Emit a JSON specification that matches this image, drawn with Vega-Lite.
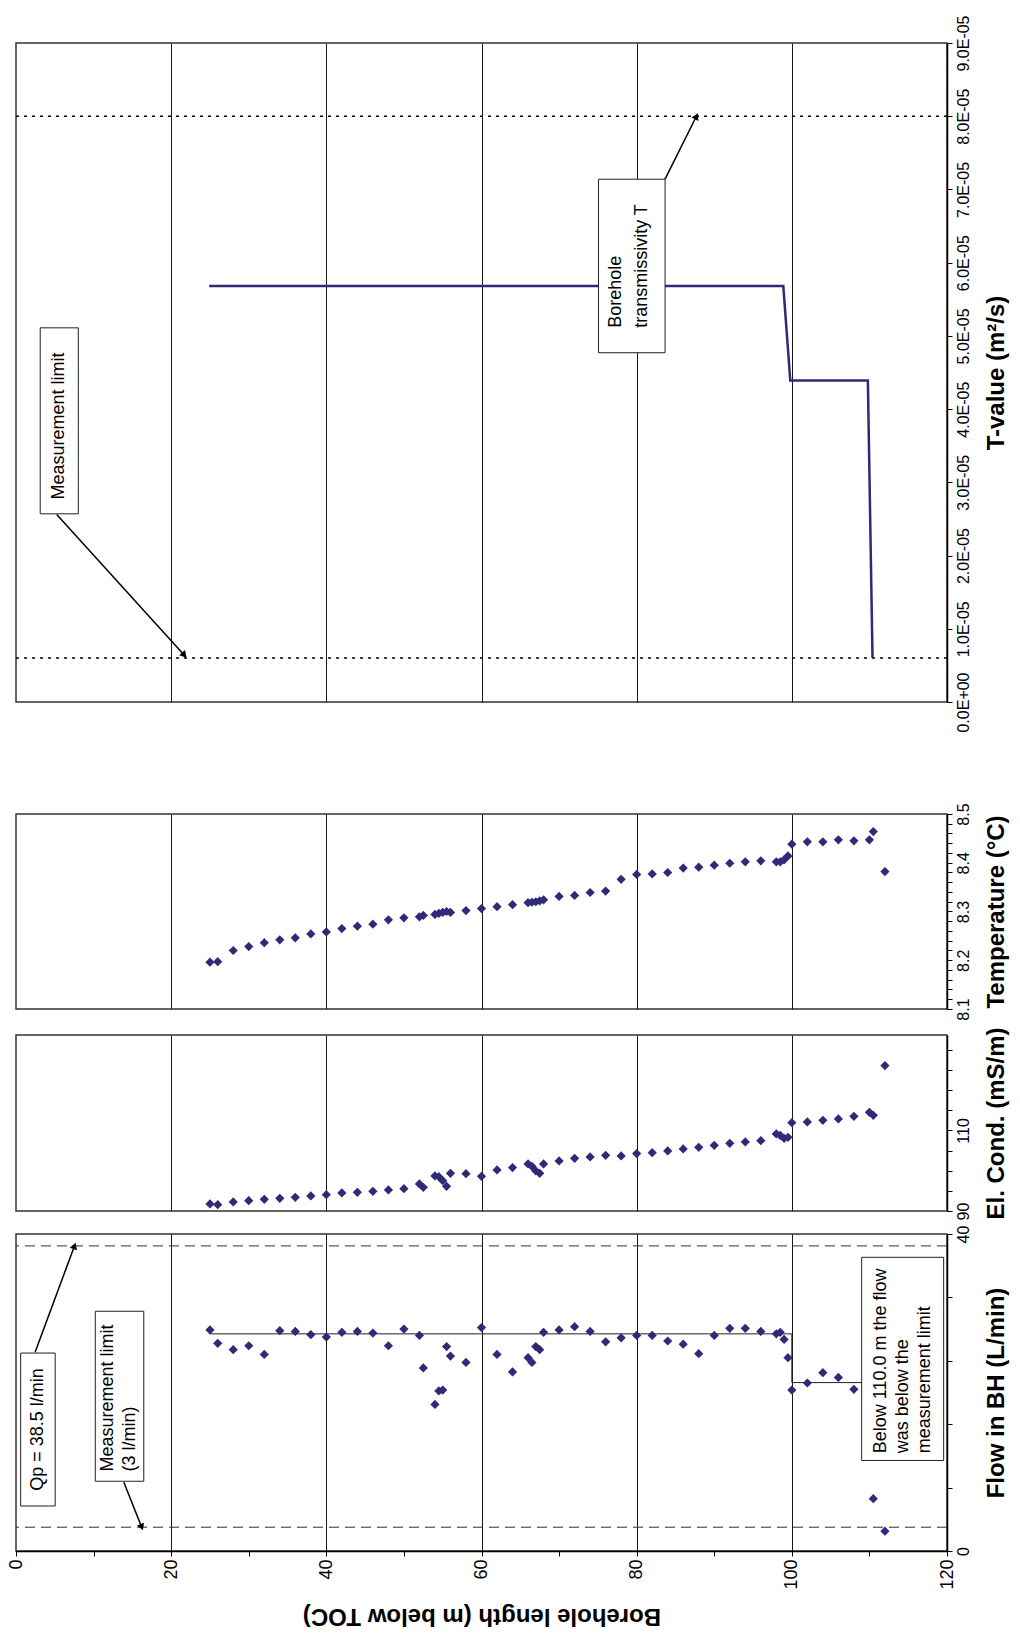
{
  "$schema": "https://vega.github.io/schema/vega-lite/v6.json",
  "background": "white",
  "padding": {"left": 6, "top": 14, "right": 4, "bottom": 4},
  "config": {
    "view": {"stroke": "#333333", "strokeWidth": 1.5},
    "axis": {
      "labelFont": "Liberation Sans", "titleFont": "Liberation Sans",
      "labelFontSize": 16, "titleFontSize": 24, "titleFontWeight": "bold",
      "labelColor": "#000000", "titleColor": "#000000",
      "domainColor": "#000000", "domainWidth": 1.5,
      "tickColor": "#000000", "tickWidth": 1, "tickSize": 5,
      "gridColor": "#1a1a1a", "gridWidth": 1,
      "labelFlush": false, "labelOverlap": false, "labelBound": false
    },
    "text": {"font": "Liberation Sans", "fontSize": 18, "color": "#000000"}
  },
  "datasets": {
    "flow": [
      {"depth": 25, "flow": 27.9}, {"depth": 26, "flow": 26.2}, {"depth": 28, "flow": 25.4}, {"depth": 30, "flow": 25.9},
      {"depth": 32, "flow": 24.8}, {"depth": 34, "flow": 27.8}, {"depth": 36, "flow": 27.7}, {"depth": 38, "flow": 27.3},
      {"depth": 40, "flow": 27.0}, {"depth": 42, "flow": 27.6}, {"depth": 44, "flow": 27.7}, {"depth": 46, "flow": 27.5},
      {"depth": 48, "flow": 25.9}, {"depth": 50, "flow": 28.0}, {"depth": 52, "flow": 27.2}, {"depth": 52.5, "flow": 23.1},
      {"depth": 54, "flow": 18.5}, {"depth": 54.5, "flow": 20.2}, {"depth": 55, "flow": 20.3}, {"depth": 55.5, "flow": 25.8},
      {"depth": 56, "flow": 24.6}, {"depth": 58, "flow": 23.8}, {"depth": 60, "flow": 28.2}, {"depth": 62, "flow": 24.8},
      {"depth": 64, "flow": 22.6}, {"depth": 66, "flow": 24.4}, {"depth": 66.5, "flow": 23.8}, {"depth": 67, "flow": 25.8},
      {"depth": 67.5, "flow": 25.4}, {"depth": 68, "flow": 27.6}, {"depth": 70, "flow": 27.9}, {"depth": 72, "flow": 28.3},
      {"depth": 74, "flow": 27.7}, {"depth": 76, "flow": 26.4}, {"depth": 78, "flow": 26.9}, {"depth": 80, "flow": 27.2},
      {"depth": 82, "flow": 27.2}, {"depth": 84, "flow": 26.5}, {"depth": 86, "flow": 26.1}, {"depth": 88, "flow": 24.9},
      {"depth": 90, "flow": 27.2}, {"depth": 92, "flow": 28.1}, {"depth": 94, "flow": 28.1}, {"depth": 96, "flow": 27.7},
      {"depth": 98, "flow": 27.4}, {"depth": 98.5, "flow": 27.6}, {"depth": 99, "flow": 26.7}, {"depth": 99.5, "flow": 24.4},
      {"depth": 100, "flow": 20.3}, {"depth": 102, "flow": 21.2}, {"depth": 104, "flow": 22.5}, {"depth": 106, "flow": 21.9},
      {"depth": 108, "flow": 20.4}, {"depth": 110.5, "flow": 6.6}, {"depth": 112, "flow": 2.5}
    ],
    "flowStep": [
      {"depth": 25, "flow": 27.4}, {"depth": 100, "flow": 27.4}, {"depth": 100, "flow": 21.25}, {"depth": 110, "flow": 21.25}
    ],
    "flowLimits": [{"flow": 38.5}, {"flow": 3}],
    "flowBoxes": [
      {"depth": 0.6, "depth2": 5.05, "flow": 5.68, "flow2": 24.98},
      {"depth": 10.22, "depth2": 16.47, "flow": 8.8, "flow2": 30.25},
      {"depth": 109.0, "depth2": 119.57, "flow": 11.42, "flow2": 37.06}
    ],
    "flowArrows": [
      {"depth": 2.46, "flow": 25.07, "depth2": 7.54, "flow2": 38.5},
      {"depth": 13.9, "flow": 8.67, "depth2": 16.2, "flow2": 3.0}
    ],
    "elcond": [
      {"depth": 25, "ec": 91.75}, {"depth": 26, "ec": 91.58}, {"depth": 28, "ec": 92.24}, {"depth": 30, "ec": 92.57},
      {"depth": 32, "ec": 92.91}, {"depth": 34, "ec": 93.15}, {"depth": 36, "ec": 93.4}, {"depth": 38, "ec": 93.73},
      {"depth": 40, "ec": 94.06}, {"depth": 42, "ec": 94.48}, {"depth": 44, "ec": 94.64}, {"depth": 46, "ec": 94.89},
      {"depth": 48, "ec": 95.22}, {"depth": 50, "ec": 95.55}, {"depth": 52, "ec": 96.71}, {"depth": 52.5, "ec": 95.89},
      {"depth": 54, "ec": 98.7}, {"depth": 54.5, "ec": 98.53}, {"depth": 55, "ec": 97.54}, {"depth": 55.5, "ec": 96.13},
      {"depth": 56, "ec": 99.36}, {"depth": 58, "ec": 99.28}, {"depth": 60, "ec": 98.62}, {"depth": 62, "ec": 100.19},
      {"depth": 64, "ec": 100.77}, {"depth": 66, "ec": 101.68}, {"depth": 66.5, "ec": 101.1}, {"depth": 67, "ec": 99.94},
      {"depth": 67.5, "ec": 99.36}, {"depth": 68, "ec": 101.68}, {"depth": 70, "ec": 102.42}, {"depth": 72, "ec": 103.09},
      {"depth": 74, "ec": 103.42}, {"depth": 76, "ec": 103.83}, {"depth": 78, "ec": 103.67}, {"depth": 80, "ec": 104.25},
      {"depth": 82, "ec": 104.49}, {"depth": 84, "ec": 104.91}, {"depth": 86, "ec": 105.4}, {"depth": 88, "ec": 105.82},
      {"depth": 90, "ec": 106.31}, {"depth": 92, "ec": 106.81}, {"depth": 94, "ec": 107.14}, {"depth": 96, "ec": 107.47},
      {"depth": 98, "ec": 109.13}, {"depth": 98.5, "ec": 108.8}, {"depth": 99, "ec": 108.05}, {"depth": 99.5, "ec": 108.3},
      {"depth": 100, "ec": 111.94}, {"depth": 102, "ec": 112.11}, {"depth": 104, "ec": 112.52}, {"depth": 106, "ec": 112.85},
      {"depth": 108, "ec": 113.52}, {"depth": 110, "ec": 114.51}, {"depth": 110.5, "ec": 113.76}, {"depth": 112, "ec": 126.1}
    ],
    "temp": [
      {"depth": 25, "temp": 8.196}, {"depth": 26, "temp": 8.197}, {"depth": 28, "temp": 8.22}, {"depth": 30, "temp": 8.228},
      {"depth": 32, "temp": 8.236}, {"depth": 34, "temp": 8.242}, {"depth": 36, "temp": 8.246}, {"depth": 38, "temp": 8.254},
      {"depth": 40, "temp": 8.258}, {"depth": 42, "temp": 8.265}, {"depth": 44, "temp": 8.27}, {"depth": 46, "temp": 8.274},
      {"depth": 48, "temp": 8.283}, {"depth": 50, "temp": 8.287}, {"depth": 52, "temp": 8.289}, {"depth": 52.5, "temp": 8.292},
      {"depth": 54, "temp": 8.294}, {"depth": 54.5, "temp": 8.296}, {"depth": 55, "temp": 8.298}, {"depth": 55.5, "temp": 8.3},
      {"depth": 56, "temp": 8.298}, {"depth": 58, "temp": 8.302}, {"depth": 60, "temp": 8.306}, {"depth": 62, "temp": 8.31},
      {"depth": 64, "temp": 8.314}, {"depth": 66, "temp": 8.318}, {"depth": 66.5, "temp": 8.319}, {"depth": 67, "temp": 8.32},
      {"depth": 67.5, "temp": 8.322}, {"depth": 68, "temp": 8.324}, {"depth": 70, "temp": 8.331}, {"depth": 72, "temp": 8.333},
      {"depth": 74, "temp": 8.339}, {"depth": 76, "temp": 8.342}, {"depth": 78, "temp": 8.366}, {"depth": 80, "temp": 8.376},
      {"depth": 82, "temp": 8.377}, {"depth": 84, "temp": 8.38}, {"depth": 86, "temp": 8.389}, {"depth": 88, "temp": 8.391},
      {"depth": 90, "temp": 8.395}, {"depth": 92, "temp": 8.399}, {"depth": 94, "temp": 8.402}, {"depth": 96, "temp": 8.404},
      {"depth": 98, "temp": 8.402}, {"depth": 98.5, "temp": 8.402}, {"depth": 99, "temp": 8.406}, {"depth": 99.5, "temp": 8.414},
      {"depth": 100, "temp": 8.438}, {"depth": 102, "temp": 8.443}, {"depth": 104, "temp": 8.443}, {"depth": 106, "temp": 8.447},
      {"depth": 108, "temp": 8.445}, {"depth": 110, "temp": 8.447}, {"depth": 110.5, "temp": 8.464}, {"depth": 112, "temp": 8.382}
    ],
    "tLine": [
      {"depth": 24.9, "t": 5.68e-5}, {"depth": 98.9, "t": 5.68e-5}, {"depth": 99.8, "t": 4.39e-5},
      {"depth": 109.8, "t": 4.39e-5}, {"depth": 110.4, "t": 0.6e-5}
    ],
    "tLimits": [{"t": 8.0e-5}, {"t": 0.6e-5}],
    "tBoxes": [
      {"depth": 3.12, "depth2": 8.03, "t": 2.57e-5, "t2": 5.11e-5},
      {"depth": 75.08, "depth2": 83.66, "t": 4.77e-5, "t2": 7.14e-5}
    ],
    "tArrows": [
      {"depth": 5.25, "t": 2.56e-5, "depth2": 21.7, "t2": 0.64e-5},
      {"depth": 83.66, "t": 7.14e-5, "depth2": 87.7, "t2": 8.0e-5}
    ]
  },
  "spacing": 112,
  "bounds": "flush",
  "vconcat": [
    {
      "width": 931,
      "height": 659,
      "layer": [
        {
          "data": {"name": "tLimits"},
          "mark": {"type": "rule", "color": "#000000", "strokeWidth": 1.5, "strokeDash": [3, 5]},
          "encoding": {
            "y": {"field": "t", "type": "quantitative", "scale": {"domain": [0, 9e-5], "nice": false, "zero": false},
              "axis": {
                "orient": "right", "grid": false,
                "values": [0, 1e-5, 2e-5, 3e-5, 4e-5, 5e-5, 6e-5, 7e-5, 8e-5, 9e-5],
                "labelExpr": "datum.value == 0 ? '0.0E+00' : replace(format(datum.value, '.1e'), 'e-5', 'E-05')",
                "labelAngle": 270, "labelAlign": "center", "labelBaseline": "top", "labelPadding": 3, "labelFontSize": 16,
                "title": "T-value (m²/s)", "titleAngle": 270, "titleBaseline": "top", "titlePadding": 13
              }
            }
          }
        },
        {
          "data": {"name": "tLine"},
          "mark": {"type": "line", "color": "#2E2A78", "strokeWidth": 2.5},
          "encoding": {
            "x": {"field": "depth", "type": "quantitative", "scale": {"domain": [0, 120], "nice": false, "zero": false},
              "axis": {"orient": "bottom", "values": [20, 40, 60, 80, 100], "grid": true, "labels": false, "ticks": false, "domain": false, "title": null}},
            "y": {"field": "t", "type": "quantitative", "scale": {"domain": [0, 9e-5], "nice": false, "zero": false}},
            "order": {"value": null}
          }
        },
        {
          "data": {"name": "tBoxes"},
          "mark": {"type": "rect", "fill": "white", "stroke": "#222222", "strokeWidth": 1},
          "encoding": {
            "x": {"field": "depth", "type": "quantitative", "scale": {"domain": [0, 120], "nice": false, "zero": false}},
            "x2": {"field": "depth2"},
            "y": {"field": "t", "type": "quantitative", "scale": {"domain": [0, 9e-5], "nice": false, "zero": false}},
            "y2": {"field": "t2"}
          }
        },
        {
          "data": {"values": [{"depth": 5.58, "t": 3.77e-5, "label": "Measurement limit"}]},
          "mark": {"type": "text", "angle": 270, "align": "center", "baseline": "middle"},
          "encoding": {
            "x": {"field": "depth", "type": "quantitative", "scale": {"domain": [0, 120], "nice": false, "zero": false}},
            "y": {"field": "t", "type": "quantitative", "scale": {"domain": [0, 9e-5], "nice": false, "zero": false}},
            "text": {"field": "label"}
          }
        },
        {
          "data": {"values": [{"depth": 77.39, "t": 5.11e-5, "label": "Borehole\ntransmissivity T"}]},
          "mark": {"type": "text", "angle": 270, "align": "left", "baseline": "middle", "lineBreak": "\n", "lineHeight": 26},
          "encoding": {
            "x": {"field": "depth", "type": "quantitative", "scale": {"domain": [0, 120], "nice": false, "zero": false}},
            "y": {"field": "t", "type": "quantitative", "scale": {"domain": [0, 9e-5], "nice": false, "zero": false}},
            "text": {"field": "label"}
          }
        },
        {
          "data": {"name": "tArrows"},
          "mark": {"type": "rule", "color": "#000000", "strokeWidth": 1.5},
          "encoding": {
            "x": {"field": "depth", "type": "quantitative", "scale": {"domain": [0, 120], "nice": false, "zero": false}},
            "x2": {"field": "depth2"},
            "y": {"field": "t", "type": "quantitative", "scale": {"domain": [0, 9e-5], "nice": false, "zero": false}},
            "y2": {"field": "t2"}
          }
        },
        {
          "data": {"values": [{"depth": 21.7, "t": 0.64e-5}]},
          "mark": {"type": "point", "shape": "triangle-up", "filled": true, "color": "#000000", "opacity": 1, "size": 60, "angle": 138},
          "encoding": {
            "x": {"field": "depth", "type": "quantitative", "scale": {"domain": [0, 120], "nice": false, "zero": false}},
            "y": {"field": "t", "type": "quantitative", "scale": {"domain": [0, 9e-5], "nice": false, "zero": false}}
          }
        },
        {
          "data": {"values": [{"depth": 87.7, "t": 8.0e-5}]},
          "mark": {"type": "point", "shape": "triangle-up", "filled": true, "color": "#000000", "opacity": 1, "size": 60, "angle": 26},
          "encoding": {
            "x": {"field": "depth", "type": "quantitative", "scale": {"domain": [0, 120], "nice": false, "zero": false}},
            "y": {"field": "t", "type": "quantitative", "scale": {"domain": [0, 9e-5], "nice": false, "zero": false}}
          }
        }
      ]
    },
    {
      "spacing": 26,
      "bounds": "flush",
      "vconcat": [
        {
          "width": 931,
          "height": 195,
          "data": {"name": "temp"},
          "mark": {"type": "point", "shape": "diamond", "filled": true, "size": 85, "color": "#2E2A78", "opacity": 1},
          "encoding": {
            "x": {"field": "depth", "type": "quantitative", "scale": {"domain": [0, 120], "nice": false, "zero": false},
              "axis": {"orient": "bottom", "values": [20, 40, 60, 80, 100], "grid": true, "labels": false, "ticks": false, "domain": false, "title": null}},
            "y": {"field": "temp", "type": "quantitative", "scale": {"domain": [8.1, 8.5], "nice": false, "zero": false},
              "axis": {
                "orient": "right", "grid": false,
                "values": [8.1, 8.12, 8.14, 8.16, 8.18, 8.2, 8.22, 8.24, 8.26, 8.28, 8.3, 8.32, 8.34, 8.36, 8.38, 8.4, 8.42, 8.44, 8.46, 8.48, 8.5],
                "labelExpr": "abs(datum.value * 10 - round(datum.value * 10)) < 0.01 ? format(datum.value, '.1f') : ''",
                "labelAngle": 270, "labelAlign": "center", "labelBaseline": "top", "labelPadding": 3,
                "title": "Temperature (°C)", "titleAngle": 270, "titleBaseline": "top", "titlePadding": 13
              }
            }
          }
        },
        {
          "spacing": 23,
          "bounds": "flush",
          "vconcat": [
            {
              "width": 931,
              "height": 176,
              "data": {"name": "elcond"},
              "mark": {"type": "point", "shape": "diamond", "filled": true, "size": 85, "color": "#2E2A78", "opacity": 1},
              "encoding": {
                "x": {"field": "depth", "type": "quantitative", "scale": {"domain": [0, 120], "nice": false, "zero": false},
                  "axis": {"orient": "bottom", "values": [20, 40, 60, 80, 100], "grid": true, "labels": false, "ticks": false, "domain": false, "title": null}},
                "y": {"field": "ec", "type": "quantitative", "scale": {"domain": [90, 133.7], "nice": false, "zero": false},
                  "axis": {
                    "orient": "right", "grid": false,
                    "values": [90, 95, 100, 105, 110, 115, 120, 125, 130],
                    "labelExpr": "datum.value == 90 || datum.value == 110 ? datum.label : ''",
                    "labelAngle": 270, "labelAlign": "center", "labelBaseline": "top", "labelPadding": 3,
                    "title": "El. Cond. (mS/m)", "titleAngle": 270, "titleBaseline": "top", "titlePadding": 13
                  }
                }
              }
            },
            {
              "width": 931,
              "height": 317,
              "layer": [
                {
                  "data": {"name": "flowLimits"},
                  "mark": {"type": "rule", "color": "#333333", "strokeWidth": 1, "strokeDash": [10, 6]},
                  "encoding": {
                    "y": {"field": "flow", "type": "quantitative", "scale": {"domain": [0, 40], "nice": false, "zero": false},
                      "axis": {
                        "orient": "right", "grid": false,
                        "values": [0, 2, 4, 6, 8, 10, 12, 14, 16, 18, 20, 22, 24, 26, 28, 30, 32, 34, 36, 38, 40],
                        "labelExpr": "datum.value % 10 == 0 ? datum.label : ''",
                        "labelAngle": 270, "labelAlign": "center", "labelBaseline": "top", "labelPadding": 3,
                        "title": "Flow in BH (L/min)", "titleAngle": 270, "titleBaseline": "top", "titlePadding": 13
                      }
                    }
                  }
                },
                {
                  "data": {"name": "flowStep"},
                  "mark": {"type": "line", "color": "#222222", "strokeWidth": 1},
                  "encoding": {
                    "x": {"field": "depth", "type": "quantitative", "scale": {"domain": [0, 120], "nice": false, "zero": false},
                      "axis": {
                        "orient": "bottom",
                        "values": [0, 10, 20, 30, 40, 50, 60, 70, 80, 90, 100, 110, 120],
                        "grid": true,
                        "gridOpacity": {"condition": {"test": "datum.value % 20 == 0 && datum.value > 0 && datum.value < 120", "value": 1}, "value": 0},
                        "labelExpr": "datum.value % 20 == 0 ? datum.label : ''",
                        "labelAngle": 270, "labelAlign": "right", "labelBaseline": "middle", "labelPadding": 3, "labelFontSize": 18,
                        "title": "Borehole length (m below TOC)", "titleAngle": 180, "titleBaseline": "bottom",
                        "titlePadding": 14, "titleFontSize": 24
                      }
                    },
                    "y": {"field": "flow", "type": "quantitative", "scale": {"domain": [0, 40], "nice": false, "zero": false}},
                    "order": {"value": null}
                  }
                },
                {
                  "data": {"name": "flow"},
                  "mark": {"type": "point", "shape": "diamond", "filled": true, "size": 85, "color": "#2E2A78", "opacity": 1},
                  "encoding": {
                    "x": {"field": "depth", "type": "quantitative", "scale": {"domain": [0, 120], "nice": false, "zero": false}},
                    "y": {"field": "flow", "type": "quantitative", "scale": {"domain": [0, 40], "nice": false, "zero": false}}
                  }
                },
                {
                  "data": {"name": "flowBoxes"},
                  "mark": {"type": "rect", "fill": "white", "stroke": "#222222", "strokeWidth": 1},
                  "encoding": {
                    "x": {"field": "depth", "type": "quantitative", "scale": {"domain": [0, 120], "nice": false, "zero": false}},
                    "x2": {"field": "depth2"},
                    "y": {"field": "flow", "type": "quantitative", "scale": {"domain": [0, 40], "nice": false, "zero": false}},
                    "y2": {"field": "flow2"}
                  }
                },
                {
                  "data": {"values": [{"depth": 2.83, "flow": 15.33, "label": "Qp = 38.5 l/min"}]},
                  "mark": {"type": "text", "angle": 270, "align": "center", "baseline": "middle"},
                  "encoding": {
                    "x": {"field": "depth", "type": "quantitative", "scale": {"domain": [0, 120], "nice": false, "zero": false}},
                    "y": {"field": "flow", "type": "quantitative", "scale": {"domain": [0, 40], "nice": false, "zero": false}},
                    "text": {"field": "label"}
                  }
                },
                {
                  "data": {"values": [
                    {"depth": 11.85, "flow": 10.02, "label": "Measurement limit\n(3 l/min)"},
                    {"depth": 111.46, "flow": 12.33, "label": "Below 110.0 m the flow\nwas below the\nmeasurement limit"}
                  ]},
                  "mark": {"type": "text", "angle": 270, "align": "left", "baseline": "middle", "lineBreak": "\n", "lineHeight": 22},
                  "encoding": {
                    "x": {"field": "depth", "type": "quantitative", "scale": {"domain": [0, 120], "nice": false, "zero": false}},
                    "y": {"field": "flow", "type": "quantitative", "scale": {"domain": [0, 40], "nice": false, "zero": false}},
                    "text": {"field": "label"}
                  }
                },
                {
                  "data": {"name": "flowArrows"},
                  "mark": {"type": "rule", "color": "#000000", "strokeWidth": 1.5},
                  "encoding": {
                    "x": {"field": "depth", "type": "quantitative", "scale": {"domain": [0, 120], "nice": false, "zero": false}},
                    "x2": {"field": "depth2"},
                    "y": {"field": "flow", "type": "quantitative", "scale": {"domain": [0, 40], "nice": false, "zero": false}},
                    "y2": {"field": "flow2"}
                  }
                },
                {
                  "data": {"values": [{"depth": 7.54, "flow": 38.5}]},
                  "mark": {"type": "point", "shape": "triangle-up", "filled": true, "color": "#000000", "opacity": 1, "size": 60, "angle": 20},
                  "encoding": {
                    "x": {"field": "depth", "type": "quantitative", "scale": {"domain": [0, 120], "nice": false, "zero": false}},
                    "y": {"field": "flow", "type": "quantitative", "scale": {"domain": [0, 40], "nice": false, "zero": false}}
                  }
                },
                {
                  "data": {"values": [{"depth": 16.2, "flow": 3.0}]},
                  "mark": {"type": "point", "shape": "triangle-up", "filled": true, "color": "#000000", "opacity": 1, "size": 60, "angle": 158},
                  "encoding": {
                    "x": {"field": "depth", "type": "quantitative", "scale": {"domain": [0, 120], "nice": false, "zero": false}},
                    "y": {"field": "flow", "type": "quantitative", "scale": {"domain": [0, 40], "nice": false, "zero": false}}
                  }
                }
              ]
            }
          ]
        }
      ]
    }
  ]
}
